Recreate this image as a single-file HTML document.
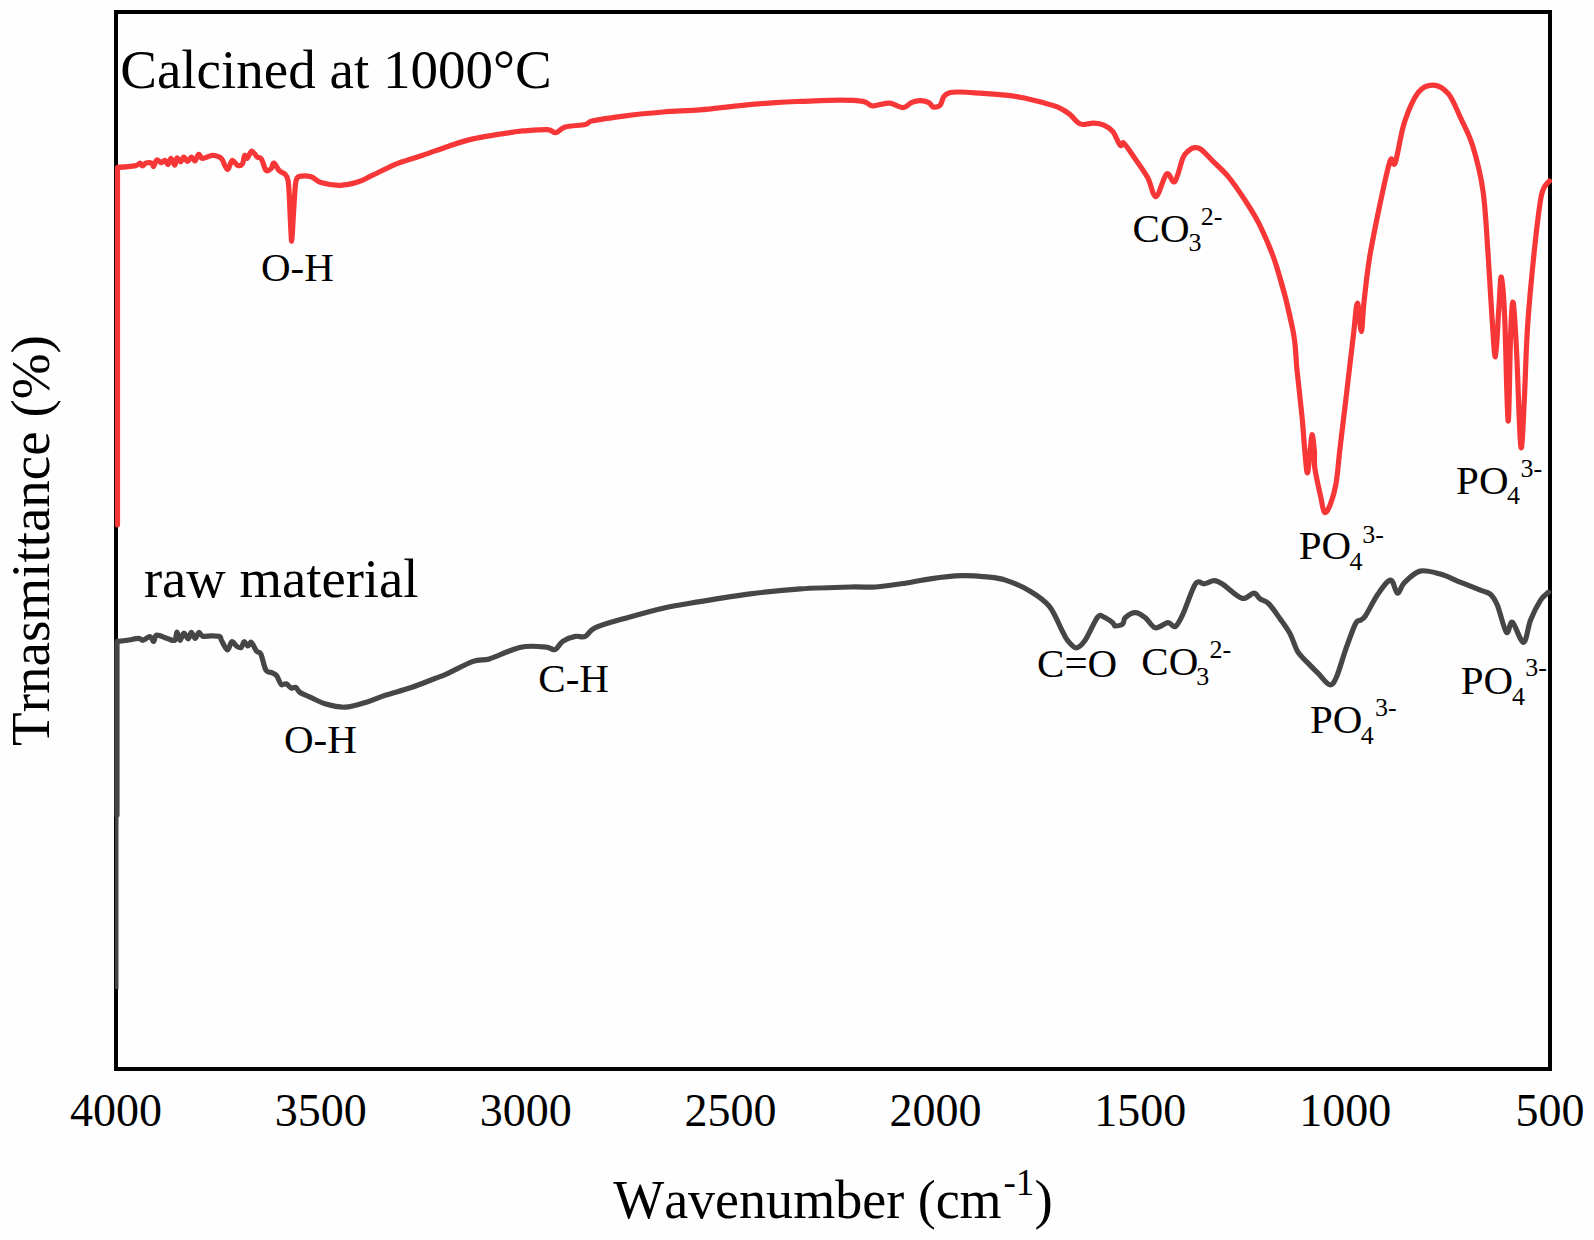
<!DOCTYPE html>
<html><head><meta charset="utf-8"><style>
html,body{margin:0;padding:0;background:#fff;overflow:hidden;}
svg{display:block;}
text{font-family:"Liberation Serif", serif;fill:#000;font-kerning:none;}
</style></head><body>
<svg width="1594" height="1240" viewBox="0 0 1594 1240">
<rect x="0" y="0" width="1594" height="1240" fill="#fefefe"/>
<rect x="116" y="12" width="1434" height="1057" fill="none" stroke="#000" stroke-width="4"/>
<path d="M117.5,524.8 L117.5,167.4  C120.5,167.2 131.8,166.3 135.6,165.6 C139.4,164.8 139.0,162.9 140.1,163.0 C141.2,163.1 141.4,166.0 142.4,166.0 C143.4,166.0 144.5,163.4 146.1,163.0 C147.7,162.6 150.8,162.7 152.1,163.3 C153.3,163.9 152.8,167.0 153.6,166.4 C154.4,165.8 155.4,160.6 156.7,160.0 C158.0,159.4 159.8,162.5 161.2,162.6 C162.6,162.7 163.9,160.0 165.0,160.3 C166.1,160.6 167.0,164.8 168.0,164.5 C169.0,164.2 169.9,158.3 171.0,158.4 C172.1,158.5 173.7,165.3 174.7,165.2 C175.7,165.1 176.0,158.6 177.0,158.0 C178.0,157.4 179.7,162.0 180.8,161.8 C181.9,161.6 182.7,157.1 183.8,157.0 C184.9,156.9 186.2,161.5 187.5,161.5 C188.8,161.5 190.1,157.1 191.3,157.0 C192.6,156.9 193.8,161.4 195.0,161.0 C196.2,160.6 197.5,154.7 198.8,154.3 C200.1,153.9 200.3,158.2 202.6,158.4 C204.9,158.6 209.6,155.6 212.4,155.4 C215.2,155.2 217.6,156.3 219.2,157.0 C220.8,157.7 220.8,157.5 222.2,159.6 C223.6,161.7 225.9,169.4 227.6,169.5 C229.3,169.6 230.5,161.1 232.2,160.4 C233.8,159.7 235.8,164.7 237.5,165.3 C239.2,165.9 241.2,165.6 242.4,164.0 C243.6,162.4 243.8,156.5 244.6,155.5 C245.4,154.5 246.1,158.9 247.3,158.2 C248.5,157.5 250.1,151.3 251.7,151.1 C253.3,150.9 255.5,155.6 257.1,156.9 C258.7,158.2 260.0,156.9 261.5,159.1 C263.0,161.3 264.3,168.6 265.9,170.2 C267.5,171.8 270.0,169.6 271.3,168.4 C272.6,167.2 272.6,162.7 273.9,163.1 C275.2,163.5 277.3,168.7 279.2,170.6 C281.1,172.5 283.9,172.9 285.4,174.6 C286.9,176.3 287.4,176.6 288.1,180.8 C288.8,185.0 289.1,192.6 289.5,200.0 C289.9,207.4 290.2,218.1 290.6,225.0 C291.0,231.9 291.3,241.7 291.7,241.2 C292.1,240.7 292.6,228.9 293.0,222.0 C293.4,215.1 293.9,206.0 294.3,200.0 C294.7,194.0 295.0,189.3 295.3,186.0 C295.6,182.7 295.6,181.6 296.3,180.0 C297.0,178.4 297.1,176.9 299.6,176.4 C302.1,175.9 307.6,175.8 311.2,176.8 C314.8,177.8 316.1,181.2 320.9,182.6 C325.7,184.0 334.0,185.4 340.1,185.3 C346.2,185.2 352.3,183.8 357.7,182.1 C363.1,180.4 366.0,178.3 372.7,175.2 C379.4,172.1 389.4,166.6 397.8,163.3 C406.2,160.0 414.5,158.0 422.9,155.2 C431.3,152.4 439.6,149.1 448.0,146.4 C456.4,143.7 462.8,141.2 473.1,138.9 C483.4,136.6 501.3,133.9 510.0,132.6 C518.7,131.2 518.8,131.3 525.1,130.8 C531.4,130.3 542.6,129.3 547.7,129.6 C552.8,129.9 552.9,133.1 555.8,132.7 C558.7,132.3 560.3,128.4 565.2,127.0 C570.1,125.6 580.7,125.5 585.3,124.5 C589.9,123.5 586.1,122.2 592.8,120.8 C599.5,119.3 613.8,117.3 625.5,115.8 C637.2,114.3 650.7,113.0 663.1,112.0 C675.5,111.0 687.6,110.8 700.0,109.8 C712.4,108.8 725.1,107.0 737.6,105.8 C750.1,104.6 764.8,103.3 775.3,102.6 C785.8,101.9 789.5,101.8 800.4,101.4 C811.3,101.0 830.0,100.1 840.5,100.1 C851.0,100.1 857.9,100.5 863.1,101.4 C868.3,102.4 869.1,105.3 871.9,105.8 C874.7,106.3 877.0,104.9 880.0,104.5 C883.0,104.1 886.1,102.7 890.0,103.2 C893.9,103.7 899.6,107.7 903.2,107.6 C906.8,107.5 908.6,103.8 911.4,102.6 C914.2,101.4 917.3,100.7 920.2,100.7 C923.1,100.7 926.7,101.5 928.9,102.6 C931.1,103.6 931.4,106.6 933.3,107.0 C935.2,107.4 938.4,106.9 940.2,105.1 C942.0,103.3 942.3,98.4 944.0,96.3 C945.7,94.2 947.6,93.3 950.3,92.6 C953.0,91.9 955.3,91.9 960.3,92.0 C965.3,92.1 972.9,92.7 980.4,93.2 C987.9,93.7 998.9,94.4 1005.5,95.1 C1012.1,95.8 1014.0,96.0 1020.2,97.3 C1026.4,98.5 1036.5,101.0 1042.8,102.6 C1049.1,104.2 1053.5,105.2 1057.9,107.1 C1062.3,109.0 1065.9,111.4 1069.2,113.9 C1072.5,116.4 1075.3,120.4 1077.5,122.2 C1079.7,124.0 1079.9,124.3 1082.6,124.5 C1085.3,124.7 1090.4,123.1 1093.9,123.2 C1097.5,123.3 1100.8,123.7 1103.9,125.1 C1107.0,126.5 1110.0,128.1 1112.7,131.4 C1115.4,134.8 1118.3,143.2 1120.2,145.2 C1122.1,147.2 1121.5,141.0 1124.0,143.3 C1126.5,145.6 1131.3,153.2 1135.3,159.0 C1139.3,164.8 1144.3,171.5 1147.8,177.8 C1151.2,184.1 1152.9,197.2 1156.0,196.6 C1159.1,196.0 1163.5,176.5 1166.6,174.0 C1169.7,171.5 1172.1,184.3 1174.8,181.6 C1177.5,178.9 1180.7,162.8 1183.0,157.7 C1185.3,152.6 1186.6,152.5 1188.5,150.8 C1190.4,149.1 1192.4,147.9 1194.5,147.7 C1196.6,147.5 1198.0,147.2 1201.0,149.4 C1204.0,151.6 1207.7,156.0 1212.3,160.6 C1216.9,165.2 1223.0,170.3 1228.4,176.8 C1233.8,183.3 1239.1,191.1 1244.5,199.4 C1249.9,207.7 1255.2,215.5 1260.6,226.8 C1266.0,238.1 1271.4,249.9 1276.8,267.1 C1282.2,284.3 1289.5,312.9 1292.9,330.0 C1296.3,347.1 1295.4,355.1 1297.0,370.0 C1298.6,384.9 1301.1,407.1 1302.3,419.4 C1303.5,431.7 1303.4,434.7 1304.2,443.6 C1305.0,452.5 1306.2,470.2 1307.1,472.6 C1308.0,475.0 1308.7,464.3 1309.5,458.0 C1310.3,451.7 1311.2,435.9 1312.0,434.8 C1312.8,433.7 1313.9,445.8 1314.4,451.3 C1314.9,456.8 1313.8,460.2 1314.8,467.8 C1315.8,475.4 1319.1,489.4 1320.7,496.8 C1322.3,504.2 1322.9,511.0 1324.5,512.3 C1326.1,513.6 1328.4,509.4 1330.3,504.5 C1332.2,499.6 1334.5,492.6 1336.1,483.2 C1337.7,473.8 1338.4,462.3 1340.0,448.4 C1341.6,434.5 1343.5,419.0 1345.8,400.0 C1348.0,381.0 1351.6,350.3 1353.5,334.2 C1355.4,318.1 1356.1,303.6 1357.4,303.2 C1358.7,302.8 1360.2,331.6 1361.3,331.6 C1362.4,331.6 1362.5,315.5 1363.9,303.2 C1365.3,290.9 1366.8,274.7 1369.5,258.0 C1372.2,241.3 1376.8,219.3 1380.2,203.1 C1383.7,186.9 1387.7,167.4 1390.2,160.7 C1392.7,154.0 1392.9,169.1 1395.3,162.7 C1397.7,156.3 1400.5,134.2 1404.4,122.4 C1408.3,110.7 1413.6,98.4 1418.5,92.2 C1423.4,86.0 1428.6,84.8 1433.6,85.1 C1438.6,85.4 1444.2,88.7 1448.7,94.2 C1453.2,99.8 1456.8,109.7 1460.8,118.4 C1464.8,127.1 1469.2,134.5 1472.9,146.6 C1476.6,158.7 1480.5,173.8 1483.0,191.0 C1485.5,208.2 1486.3,228.9 1487.8,250.0 C1489.3,271.1 1490.7,299.9 1492.0,317.7 C1493.3,335.5 1494.3,358.1 1495.4,356.7 C1496.5,355.3 1497.8,322.6 1498.8,309.3 C1499.8,296.0 1500.3,275.7 1501.3,277.1 C1502.3,278.5 1503.6,293.7 1504.7,317.7 C1505.8,341.7 1507.1,418.2 1508.1,421.0 C1509.1,423.8 1509.8,354.4 1510.6,334.7 C1511.4,314.9 1512.2,299.7 1513.2,302.5 C1514.2,305.3 1515.3,327.6 1516.6,351.6 C1517.9,375.6 1519.5,437.9 1520.8,446.4 C1522.1,454.9 1523.1,422.4 1524.2,402.4 C1525.3,382.4 1525.9,351.6 1527.6,326.2 C1529.3,300.8 1532.1,271.9 1534.4,250.0 C1536.7,228.1 1539.0,206.5 1541.5,195.0 C1544.0,183.5 1548.2,183.2 1549.5,180.9" fill="none" stroke="#f73638" stroke-width="5.2" stroke-linejoin="round" stroke-linecap="round"/>
<path d="M117,815 L117,641.4  C119.1,641.3 123.8,640.8 127.3,640.3 C130.8,639.8 136.0,638.4 138.6,638.4 C141.2,638.4 141.2,640.6 143.1,640.3 C145.0,640.0 148.2,636.4 149.9,636.6 C151.7,636.8 152.5,641.8 153.6,641.5 C154.7,641.2 154.4,635.6 156.7,635.1 C159.0,634.6 164.2,637.5 167.2,638.4 C170.2,639.3 173.1,641.4 174.7,640.3 C176.3,639.2 176.1,632.0 177.0,632.0 C177.9,632.0 178.9,640.1 180.0,640.3 C181.1,640.5 182.4,633.5 183.8,633.2 C185.2,633.0 187.1,638.9 188.3,638.8 C189.6,638.7 190.2,632.5 191.3,632.4 C192.4,632.3 193.8,638.4 195.1,638.4 C196.3,638.4 197.6,632.8 198.8,632.4 C200.1,632.0 200.5,635.6 202.6,636.2 C204.7,636.8 208.7,635.7 211.6,635.8 C214.5,635.9 218.3,635.9 219.9,636.6 C221.5,637.4 220.1,638.1 221.4,640.3 C222.7,642.5 225.8,649.7 227.5,649.9 C229.2,650.1 230.2,642.3 231.8,641.7 C233.4,641.1 235.3,645.4 236.9,646.4 C238.5,647.4 240.0,648.3 241.2,647.5 C242.4,646.7 243.0,642.0 244.1,641.7 C245.2,641.5 246.6,645.9 247.8,646.0 C249.0,646.1 250.0,641.5 251.4,642.4 C252.8,643.2 254.9,649.2 256.5,651.1 C258.1,653.0 259.2,650.9 260.8,654.0 C262.4,657.1 264.0,666.9 265.9,670.0 C267.8,673.1 270.6,671.9 272.4,672.9 C274.2,673.9 275.3,673.9 276.8,675.8 C278.3,677.7 279.6,683.2 281.2,684.5 C282.8,685.8 284.5,683.2 286.2,683.8 C287.9,684.4 289.7,687.5 291.3,688.1 C292.9,688.7 294.2,686.7 295.7,687.4 C297.1,688.1 297.7,690.9 300.0,692.5 C302.3,694.1 305.2,694.9 309.5,696.8 C313.8,698.7 320.1,702.4 326.0,704.1 C331.9,705.8 338.4,707.5 345.1,707.2 C351.9,706.9 359.8,704.2 366.5,702.2 C373.2,700.2 378.0,697.7 385.3,695.3 C392.6,692.9 402.0,690.6 410.4,687.8 C418.8,685.0 429.2,680.7 435.5,678.3 C441.8,675.9 441.7,676.1 448.0,673.3 C454.3,670.5 466.2,663.8 473.1,661.4 C480.0,659.0 483.2,660.7 489.4,658.9 C495.5,657.1 504.1,652.8 510.0,650.7 C516.0,648.6 519.0,647.1 525.1,646.5 C531.2,645.9 541.4,646.6 546.4,647.1 C551.4,647.6 552.5,650.6 555.2,649.6 C557.9,648.6 559.4,643.6 562.7,641.4 C566.1,639.2 571.5,637.2 575.3,636.4 C579.1,635.6 581.9,637.9 585.3,636.4 C588.6,634.9 588.7,630.6 595.4,627.6 C602.1,624.6 614.2,621.4 625.5,618.2 C636.8,615.0 650.7,611.0 663.1,608.2 C675.5,605.4 685.5,604.0 700.0,601.6 C714.5,599.2 733.5,596.0 750.2,593.9 C766.9,591.8 783.7,590.0 800.4,588.9 C817.1,587.8 838.0,587.3 850.6,587.0 C863.2,586.7 866.6,587.6 875.7,587.0 C884.8,586.4 896.0,584.6 905.1,583.2 C914.2,581.8 920.8,580.0 930.2,578.8 C939.6,577.5 952.2,576.0 961.6,575.7 C971.0,575.4 979.3,576.2 986.6,576.9 C993.9,577.6 998.2,577.7 1005.5,580.1 C1012.8,582.5 1023.3,587.0 1030.6,591.4 C1037.9,595.8 1044.2,599.9 1049.4,606.4 C1054.6,612.9 1058.9,624.6 1061.9,630.3 C1064.9,635.9 1065.1,637.4 1067.5,640.3 C1069.9,643.2 1073.4,647.8 1076.3,647.8 C1079.2,647.8 1081.5,645.4 1085.1,640.3 C1088.6,635.2 1094.5,621.0 1097.6,617.1 C1100.7,613.2 1101.4,616.2 1103.9,617.1 C1106.4,618.0 1110.8,621.2 1112.7,622.7 C1114.6,624.2 1113.5,625.7 1115.2,625.9 C1116.9,626.1 1121.0,625.4 1122.7,624.0 C1124.4,622.6 1123.1,619.6 1125.2,617.7 C1127.3,615.8 1132.0,612.7 1135.3,612.7 C1138.6,612.7 1141.9,615.2 1145.3,617.7 C1148.7,620.2 1151.6,627.0 1155.4,627.8 C1159.2,628.6 1164.6,622.9 1167.9,622.7 C1171.2,622.5 1172.9,628.0 1175.4,626.5 C1177.9,625.0 1179.7,621.1 1183.0,614.0 C1186.3,606.9 1192.0,588.8 1195.5,583.8 C1199.0,578.8 1201.2,584.3 1204.3,583.8 C1207.4,583.3 1211.2,580.6 1214.3,580.7 C1217.4,580.8 1218.5,581.6 1223.1,584.5 C1227.7,587.4 1236.8,596.8 1241.9,598.3 C1247.0,599.8 1250.8,593.1 1253.8,593.2 C1256.8,593.3 1257.6,597.1 1260.1,598.9 C1262.6,600.7 1265.6,600.5 1268.9,603.9 C1272.2,607.2 1276.7,614.0 1280.2,619.0 C1283.8,624.0 1287.3,628.6 1290.2,634.0 C1293.1,639.4 1294.6,646.6 1297.7,651.6 C1300.8,656.6 1305.7,660.6 1309.0,664.1 C1312.3,667.6 1314.3,669.5 1317.8,672.9 C1321.2,676.3 1326.6,684.2 1329.7,684.8 C1332.8,685.4 1334.0,682.5 1336.6,676.7 C1339.2,671.0 1342.3,659.1 1345.4,650.3 C1348.5,641.5 1352.9,629.0 1355.4,624.0 C1357.9,619.0 1358.8,621.6 1360.5,620.2 C1362.2,618.8 1362.6,620.2 1365.5,615.8 C1368.4,611.4 1373.8,599.8 1378.0,593.9 C1382.2,588.0 1387.3,580.2 1390.6,580.1 C1393.8,580.0 1395.2,592.8 1397.5,593.2 C1399.8,593.6 1400.6,586.3 1404.4,582.6 C1408.2,578.9 1414.1,572.5 1420.1,571.1 C1426.1,569.7 1433.5,572.3 1440.2,574.1 C1446.9,575.9 1453.5,579.4 1460.2,582.1 C1466.9,584.8 1475.3,588.2 1480.3,590.2 C1485.3,592.2 1487.6,591.7 1490.4,594.2 C1493.2,596.7 1494.7,598.9 1497.4,605.2 C1500.1,611.6 1503.9,629.4 1506.4,632.3 C1508.9,635.1 1509.6,620.6 1512.4,622.3 C1515.2,624.0 1520.5,642.7 1523.5,642.4 C1526.5,642.1 1527.7,627.3 1530.5,620.3 C1533.3,613.3 1537.6,604.9 1540.6,600.2 C1543.6,595.5 1547.3,593.5 1548.6,592.2" fill="none" stroke="#464646" stroke-width="5.2" stroke-linejoin="round" stroke-linecap="round"/>
<line x1="116.8" y1="989" x2="116.8" y2="812" stroke="#464646" stroke-width="3.4"/>
<text x="120.24" y="88.00" font-size="55">Calcined at 1000°C</text>
<text x="260.92" y="281.40" font-size="41">O-H</text>
<text x="1132.62" y="241.60" font-size="41">CO</text><text x="1188.46" y="251.40" font-size="26">3</text><text x="1200.86" y="225.40" font-size="26">2-</text>
<text x="1298.82" y="559.30" font-size="41">PO</text><text x="1349.49" y="569.50" font-size="26">4</text><text x="1362.36" y="542.50" font-size="26">3-</text>
<text x="1456.12" y="494.20" font-size="41">PO</text><text x="1506.89" y="504.40" font-size="26">4</text><text x="1520.46" y="476.60" font-size="26">3-</text>
<text x="143.90" y="597.00" font-size="55" textLength="274.6" lengthAdjust="spacingAndGlyphs">raw material</text>
<text x="284.02" y="753.00" font-size="41">O-H</text>
<text x="538.32" y="692.30" font-size="41">C-H</text>
<text x="1037.12" y="677.20" font-size="41">C=O</text>
<text x="1141.32" y="675.10" font-size="41">CO</text><text x="1196.26" y="685.00" font-size="26">3</text><text x="1209.46" y="658.20" font-size="26">2-</text>
<text x="1310.02" y="732.90" font-size="41">PO</text><text x="1360.79" y="743.50" font-size="26">4</text><text x="1375.06" y="715.90" font-size="26">3-</text>
<text x="1460.82" y="694.40" font-size="41">PO</text><text x="1511.99" y="705.30" font-size="26">4</text><text x="1525.16" y="676.20" font-size="26">3-</text>
<text x="116.00" y="1125.80" font-size="46" text-anchor="middle">4000</text>
<text x="320.86" y="1125.80" font-size="46" text-anchor="middle">3500</text>
<text x="525.71" y="1125.80" font-size="46" text-anchor="middle">3000</text>
<text x="730.57" y="1125.80" font-size="46" text-anchor="middle">2500</text>
<text x="935.43" y="1125.80" font-size="46" text-anchor="middle">2000</text>
<text x="1140.29" y="1125.80" font-size="46" text-anchor="middle">1500</text>
<text x="1345.14" y="1125.80" font-size="46" text-anchor="middle">1000</text>
<text x="1550.00" y="1125.80" font-size="46" text-anchor="middle">500</text>
<text x="613.15" y="1218.3" font-size="55" textLength="388.5" lengthAdjust="spacingAndGlyphs">Wavenumber (cm</text>
<text x="1003.50" y="1195.20" font-size="37">-1</text>
<text x="1034.50" y="1218.30" font-size="55">)</text>
<text transform="translate(48.5,540.5) rotate(-90)" font-size="55" text-anchor="middle">Trnasmittance (%)</text>
</svg>
</body></html>
